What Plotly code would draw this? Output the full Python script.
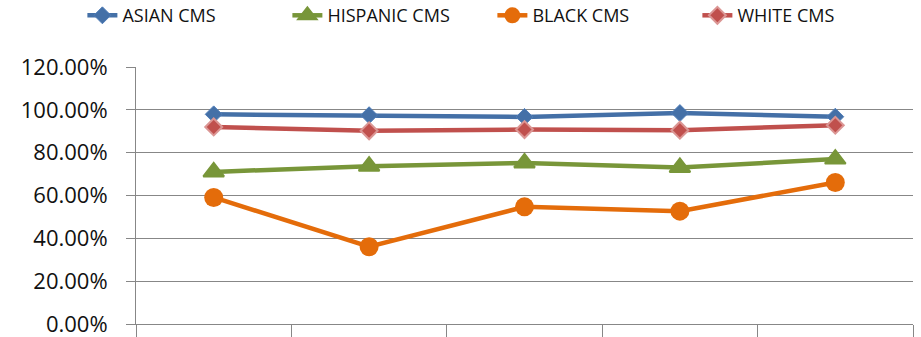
import plotly.graph_objects as go

# Five reporting periods (category labels sit below the visible area)
periods = ["Period 1", "Period 2", "Period 3", "Period 4", "Period 5"]

asian_cms = [0.979, 0.975, 0.967, 0.985, 0.968]
hispanic_cms = [0.710, 0.737, 0.752, 0.731, 0.770]
black_cms = [0.591, 0.361, 0.547, 0.527, 0.661]
white_cms = [0.920, 0.902, 0.908, 0.905, 0.928]

y_ticks = [0, 0.2, 0.4, 0.6, 0.8, 1.0, 1.2]

font_family = "'Open Sans', Lato, sans-serif"
grid_color = "#878787"

fig = go.Figure()

fig.add_trace(go.Scatter(
    x=periods, y=asian_cms, name="ASIAN CMS", mode="lines+markers",
    line=dict(color="#4470A7", width=4.5),
    marker=dict(symbol="diamond", size=13, color="#4470A7",
                line=dict(color="#4F7DB8", width=1)),
))
fig.add_trace(go.Scatter(
    x=periods, y=hispanic_cms, name="HISPANIC CMS", mode="lines+markers",
    line=dict(color="#789639", width=4.5),
    marker=dict(symbol="triangle-up", size=18, color="#789639",
                line=dict(color="#789639", width=2)),
))
fig.add_trace(go.Scatter(
    x=periods, y=black_cms, name="BLACK CMS", mode="lines+markers",
    line=dict(color="#E46C0A", width=4.5),
    marker=dict(symbol="circle", size=19, color="#E46C0A",
                line=dict(color="#E46C0A", width=0)),
))
fig.add_trace(go.Scatter(
    x=periods, y=white_cms, name="WHITE CMS", mode="lines+markers",
    line=dict(color="#C0504D", width=4.5),
    marker=dict(symbol="diamond", size=13, color="#C0504D",
                line=dict(color="#DB9694", width=2)),
))

fig.update_layout(
    width=921, height=337,
    margin=dict(l=136, r=8, t=67, b=13, autoexpand=False),
    paper_bgcolor="white", plot_bgcolor="white",
    font=dict(family=font_family, color="#111111"),
    showlegend=True,
    legend=dict(
        orientation="h", x=-0.069, y=1.2, xanchor="left", yanchor="middle",
        font=dict(size=18, family=font_family, color="#111111"),
        itemwidth=30, tracegroupgap=0,
        entrywidth=160, entrywidthmode="pixels",
        bgcolor="rgba(0,0,0,0)",
    ),
    xaxis=dict(
        type="category", range=[-0.5, 4.5], automargin=False,
        showgrid=False, showline=True, linecolor=grid_color, linewidth=1,
        ticks="outside", tickson="boundaries", ticklen=16,
        tickcolor=grid_color, tickwidth=1,
        showticklabels=False, zeroline=False, fixedrange=True,
    ),
    yaxis=dict(
        range=[0, 1.2], tickvals=y_ticks, tickformat=".2%", automargin=False,
        showgrid=True, gridcolor=grid_color, gridwidth=1,
        showline=True, linecolor=grid_color, linewidth=1,
        ticks="outside", ticklen=9, tickcolor=grid_color, tickwidth=1,
        ticklabelstandoff=14, ticklabeloverflow="allow",
        tickfont=dict(size=22, family=font_family, color="#111111"),
        zeroline=False, fixedrange=True,
    ),
)

fig.write_html("out.html")
